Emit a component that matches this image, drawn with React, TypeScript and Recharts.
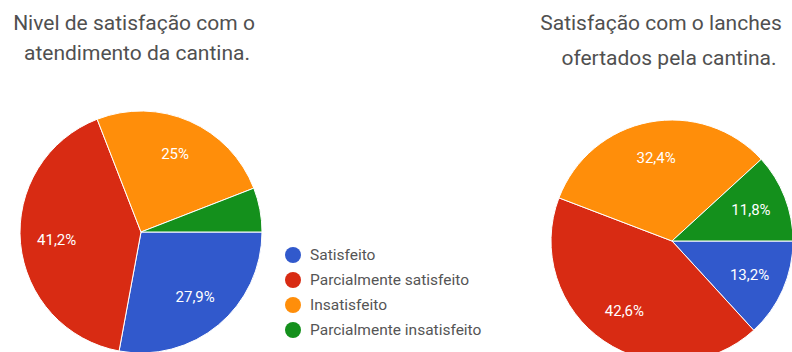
import { PieChart, Pie, Cell, Legend } from "recharts";

const categories = ["Satisfeito", "Parcialmente satisfeito", "Insatisfeito", "Parcialmente insatisfeito"];
const atendimentoValues = [27.9, 41.2, 25, 5.9];
const lanchesValues = [13.2, 42.6, 32.4, 11.8];
const COLORS = ["#3159cc", "#d82b13", "#ff8e0a", "#14901c"];

const atendimentoData = categories.map((name, i) => ({ name, value: atendimentoValues[i] }));
const lanchesData = categories.map((name, i) => ({ name, value: lanchesValues[i] }));

const RAD = Math.PI / 180;

const fmt = (v: number) => (Number.isInteger(v) ? `${v}%` : `${v.toFixed(1).replace(".", ",")}%`);

function renderLabel(props: any) {
  const { cx, cy, midAngle, outerRadius, value } = props;
  // small slices get no label, like the original
  if (value < 8) return null;
  const r = outerRadius * 0.7;
  const x = cx + r * Math.cos(-midAngle * RAD);
  const y = cy + r * Math.sin(-midAngle * RAD);
  return (
    <text x={x} y={y} fill="#fff" textAnchor="middle" dominantBaseline="central" fontSize={15} fontFamily="Roboto">
      {fmt(value)}
    </text>
  );
}

// keep the original category order (recharts sorts the payload by name)
function LegendList() {
  return (
    <div>
      {categories.map((name, i) => (
        <div key={name} style={{ display: "flex", alignItems: "center", height: 25 }}>
          <span
            style={{
              width: 16,
              height: 16,
              borderRadius: "50%",
              background: COLORS[i],
              display: "inline-block",
              marginRight: 9,
            }}
          />
          <span style={{ fontSize: 15.5, color: "#555" }}>{name}</span>
        </div>
      ))}
    </div>
  );
}

function Title({ text, x, y }: { text: string; x: number; y: number }) {
  return (
    <div
      style={{
        position: "absolute",
        left: x - 200,
        top: y - 14,
        width: 400,
        height: 28,
        lineHeight: "28px",
        textAlign: "center",
        fontSize: 21,
        color: "#505050",
      }}
    >
      {text}
    </div>
  );
}

export default function App() {
  return (
    <div
      style={{
        position: "absolute",
        left: 0,
        top: 0,
        width: 792,
        height: 352,
        overflow: "hidden",
        background: "#fff",
        fontFamily: "Roboto, sans-serif",
      }}
    >
      <div style={{ position: "absolute", left: 0, top: 0 }}>
        <PieChart width={530} height={352}>
          <Pie
            data={atendimentoData}
            dataKey="value"
            nameKey="name"
            cx={136}
            cy={227}
            outerRadius={121}
            startAngle={0}
            endAngle={-360}
            stroke="#fff"
            strokeWidth={1}
            labelLine={false}
            label={renderLabel}
            isAnimationActive={false}
          >
            {atendimentoData.map((d, i) => (
              <Cell key={d.name} fill={COLORS[i]} />
            ))}
          </Pie>
          <Legend
            layout="vertical"
            content={<LegendList />}
            wrapperStyle={{ position: "absolute", left: 285, top: 242, width: 240 }}
          />
        </PieChart>
      </div>
      <div style={{ position: "absolute", left: 530, top: 0 }}>
        <PieChart width={262} height={360}>
          <Pie
            data={lanchesData}
            dataKey="value"
            nameKey="name"
            cx={137}
            cy={236}
            outerRadius={121}
            startAngle={0}
            endAngle={-360}
            stroke="#fff"
            strokeWidth={1}
            labelLine={false}
            label={renderLabel}
            isAnimationActive={false}
          >
            {lanchesData.map((d, i) => (
              <Cell key={d.name} fill={COLORS[i]} />
            ))}
          </Pie>
        </PieChart>
      </div>
      <Title text="Nivel de satisfação com o" x={134} y={23} />
      <Title text="atendimento da cantina." x={137} y={53} />
      <Title text="Satisfação com o lanches" x={661} y={23} />
      <Title text="ofertados pela cantina." x={669} y={58} />
    </div>
  );
}
